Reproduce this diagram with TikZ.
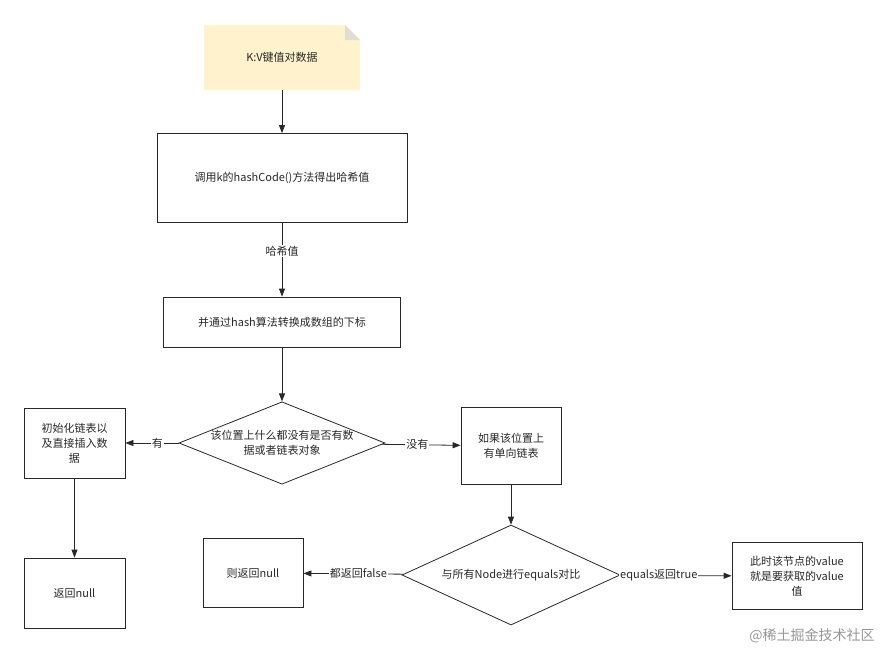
\documentclass[tikz,border=0pt]{standalone}
\usepackage{fontspec}
\setmainfont{Noto Sans CJK SC}
\usetikzlibrary{positioning,arrows.meta,shapes.geometric,shapes.misc}
\definecolor{fcLine}{RGB}{40,40,40}
\definecolor{fcNote}{RGB}{255,242,204}
\definecolor{fcMark}{RGB}{150,150,150}
\tikzset{
    base/.style={font=\fontsize{11}{15}\selectfont, align=center, text=fcLine},
    proc/.style={base, rectangle, draw=fcLine, thick, fill=white},
    choice/.style={base, diamond, draw=fcLine, thick, fill=white, aspect=2.5, inner sep=0pt},
    flow/.style={-{Triangle[length=8pt,width=6pt]}, thick, color=fcLine},
    label/.style={base, fill=white, inner sep=1pt}
}
\begin{document}
\begin{tikzpicture}[x=1pt,y=-1pt]
  \useasboundingbox (0,0) rectangle (888,653);
  % Note
  \fill[fcNote] (204,25) -- (345,25) -- (360,40) -- (360,90) -- (204,90) -- cycle;
  \fill[fcNote!70!black!40] (345,25) -- (345,40) -- (360,40) -- cycle;
  \node[base] (kv) at (282,57) {K:V键值对数据};
  % Main column
  \node[proc, minimum width=250pt, minimum height=89pt] (hash) at (282,178) {调用k的hashCode()方法得出哈希值};
  \node[proc, minimum width=237pt, minimum height=50pt] (index) at (282,322) {并通过hash算法转换成数组的下标};
  \node[choice, minimum width=200pt, minimum height=78pt] (empty) at (282,443) {该位置上什么都没有是否有数\\据或者链表对象};
  % Left side
  \node[proc, minimum width=101pt, minimum height=70pt] (init) at (74.5,443) {初始化链表以\\及直接插入数\\据};
  \node[proc, minimum width=101pt, minimum height=70pt] (retA) at (74.5,593) {返回null};
  % Right side
  \node[proc, minimum width=100pt, minimum height=77pt] (list) at (511,446) {如果该位置上\\有单向链表};
  \node[choice, minimum width=218pt, minimum height=100pt] (cmp) at (511,575) {与所有Node进行equals对比};
  \node[proc, minimum width=100pt, minimum height=69pt] (retB) at (253,573) {则返回null};
  \node[proc, minimum width=130pt, minimum height=67pt] (found) at (797,576) {此时该节点的value\\就是要获取的value\\值};
  % Arrows
  \draw[flow] (282,90) -- (hash);
  \draw[flow] (hash) -- node[label, pos=0.38] {哈希值} (index);
  \draw[flow] (index) -- (empty);
  \draw[flow] (empty) -- node[label, pos=0.4] {有} (init);
  \draw[flow] (empty) -- node[label, pos=0.45] {没有} (list);
  \draw[flow] (init) -- (retA);
  \draw[flow] (list) -- (cmp);
  \draw[flow] (cmp) -- node[label, pos=0.45] {都返回false} (retB);
  \draw[flow] (cmp) -- node[label, pos=0.35] {equals返回true} (found);
  % Watermark
  \node[base, text=fcMark, font=\fontsize{14}{16}\selectfont] (mark) at (812,636) {@稀土掘金技术社区};
\end{tikzpicture}
\end{document}
